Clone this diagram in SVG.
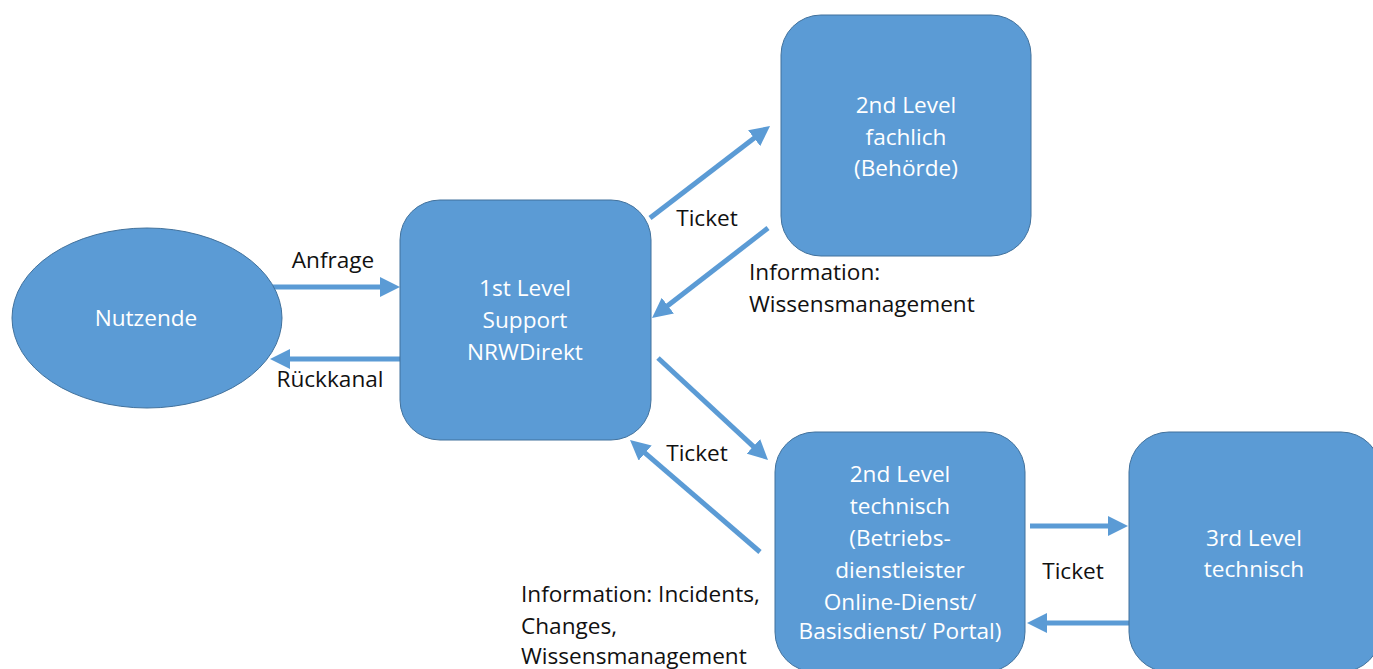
<svg xmlns="http://www.w3.org/2000/svg" width="1373" height="669" viewBox="0 0 1373 669">
  <style>
    .node { fill: #5B9BD5; stroke: #41719C; stroke-width: 1; }
    .ntext { font-family: "Open Sans", "Noto Sans", sans-serif; font-size: 22.6px; fill: #FFFFFF; text-anchor: middle; }
    .label { font-family: "Open Sans", "Noto Sans", sans-serif; font-size: 22.6px; fill: #111111; }
    .mid { text-anchor: middle; }
    .conn { stroke: #5B9BD5; stroke-width: 5; fill: none; marker-end: url(#head); }
  </style>
  <defs>
    <marker id="head" viewBox="0 0 20 20" refX="8" refY="10" markerWidth="20" markerHeight="20" markerUnits="userSpaceOnUse" orient="auto">
      <path d="M0,0 L20,10 L0,20 z" fill="#5B9BD5"/>
    </marker>
  </defs>
  <rect width="1373" height="669" fill="#FFFFFF"/>

  <g id="connectors">
    <line class="conn" x1="273" y1="287" x2="388" y2="287"/>
    <line class="conn" x1="400" y1="359" x2="282" y2="359"/>
    <line class="conn" x1="650" y1="218" x2="760.5" y2="133.3"/>
    <line class="conn" x1="768" y1="228" x2="661.5" y2="310.6"/>
    <line class="conn" x1="658" y1="358" x2="759.2" y2="451.8"/>
    <line class="conn" x1="760" y1="552" x2="639.1" y2="447.8"/>
    <line class="conn" x1="1030" y1="526" x2="1116" y2="526"/>
    <line class="conn" x1="1129" y1="623" x2="1039" y2="623"/>
  </g>

  <g id="nutzende">
    <ellipse class="node" cx="147" cy="318" rx="135" ry="90"/>
    <text class="ntext" x="146" y="326">Nutzende</text>
  </g>

  <g id="first-level">
    <rect class="node" x="400" y="200" width="251" height="240" rx="40" ry="40"/>
    <text class="ntext" x="525" y="296">1st Level</text>
    <text class="ntext" x="525" y="328">Support</text>
    <text class="ntext" x="525" y="360">NRWDirekt</text>
  </g>

  <g id="second-level-fachlich">
    <rect class="node" x="781" y="15" width="250" height="241" rx="40" ry="40"/>
    <text class="ntext" x="906" y="113">2nd Level</text>
    <text class="ntext" x="906" y="145">fachlich</text>
    <text class="ntext" x="906" y="176">(Behörde)</text>
  </g>

  <g id="second-level-technisch">
    <rect class="node" x="775" y="432" width="250" height="240" rx="40" ry="40"/>
    <text class="ntext" x="900" y="482">2nd Level</text>
    <text class="ntext" x="900" y="514">technisch</text>
    <text class="ntext" x="900" y="546">(Betriebs-</text>
    <text class="ntext" x="900" y="578">dienstleister</text>
    <text class="ntext" x="900" y="610">Online-Dienst/</text>
    <text class="ntext" x="900" y="639">Basisdienst/ Portal)</text>
  </g>

  <g id="third-level">
    <rect class="node" x="1129" y="432" width="252" height="240" rx="40" ry="40"/>
    <text class="ntext" x="1254" y="546">3rd Level</text>
    <text class="ntext" x="1254" y="577">technisch</text>
  </g>

  <g id="labels">
    <text class="label mid" x="333" y="268">Anfrage</text>
    <text class="label mid" x="330" y="387">Rückkanal</text>
    <text class="label mid" x="707" y="226">Ticket</text>
    <text class="label" x="749" y="280">Information:</text>
    <text class="label" x="749" y="312">Wissensmanagement</text>
    <text class="label mid" x="697" y="461">Ticket</text>
    <text class="label mid" x="1073" y="579">Ticket</text>
    <text class="label" x="521" y="602">Information: Incidents,</text>
    <text class="label" x="521" y="634">Changes,</text>
    <text class="label" x="521" y="664">Wissensmanagement</text>
  </g>
</svg>
